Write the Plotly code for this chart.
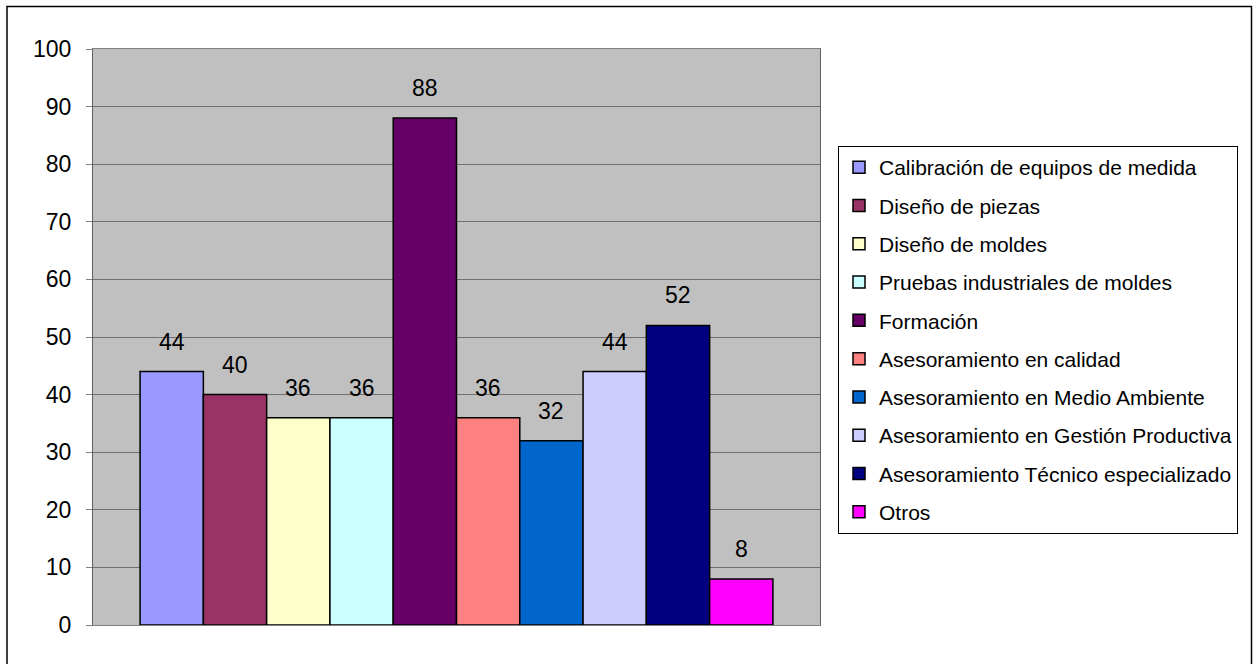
import plotly.graph_objects as go

categories = [
    "Calibración de equipos de medida",
    "Diseño de piezas",
    "Diseño de moldes",
    "Pruebas industriales de moldes",
    "Formación",
    "Asesoramiento en calidad",
    "Asesoramiento en Medio Ambiente",
    "Asesoramiento en Gestión Productiva",
    "Asesoramiento Técnico especializado",
    "Otros",
]
values = [44, 40, 36, 36, 88, 36, 32, 44, 52, 8]
colors = ["#9999FF", "#993366", "#FFFFCC", "#CCFFFF", "#660066",
          "#FF8080", "#0066CC", "#CCCCFF", "#000080", "#FF00FF"]
y_ticks = [0, 10, 20, 30, 40, 50, 60, 70, 80, 90, 100]

FONT = "Liberation Sans, Arial, sans-serif"

fig = go.Figure()
for i, (name, v, c) in enumerate(zip(categories, values, colors)):
    fig.add_trace(go.Bar(
        x=[i], y=[v], name=name, width=1.0,
        marker=dict(color=c, line=dict(color="#000000", width=1.5)),
        legendgroup=name,
        hoverinfo="name+y",
    ))
    fig.add_annotation(x=i, y=v, text=str(v), showarrow=False,
                       yanchor="bottom", yshift=15,
                       font=dict(family=FONT, size=23, color="#000000"))

W, H = 1253, 664
L, R, T, B = 93, 820, 49, 625
pw, ph = R - L, B - T

def px(xp):
    return (xp - L) / pw

def py(yp):
    return (B - yp) / ph

fig.add_shape(type="rect", xref="paper", yref="paper",
              x0=px(7), x1=px(1251.5), y0=py(680), y1=py(6.5),
              line=dict(color="#000000", width=1.5), layer="below")

fig.update_layout(
    width=W, height=H,
    margin=dict(l=L, r=W - R, t=T, b=H - B, pad=0),
    paper_bgcolor="#FFFFFF",
    plot_bgcolor="#C0C0C0",
    barmode="overlay",
    font=dict(family=FONT, size=21, color="#000000"),
    showlegend=True,
    legend=dict(
        x=px(838), y=py(146), xanchor="left", yanchor="top",
        bgcolor="#FFFFFF", bordercolor="#000000", borderwidth=1,
        font=dict(family=FONT, size=21, color="#000000"),
        tracegroupgap=8, traceorder="grouped",
    ),
    xaxis=dict(
        range=[-1.244, 10.244], showticklabels=False, ticks="",
        showgrid=False, zeroline=False,
        showline=True, linecolor="#808080", linewidth=1, mirror=True,
    ),
    yaxis=dict(
        range=[0, 100], tickvals=y_ticks, ticks="outside", ticklen=6,
        tickcolor="#808080", tickwidth=1,
        showgrid=True, gridcolor="#707070", gridwidth=1,
        zeroline=False,
        showline=True, linecolor="#606060", linewidth=1, mirror=True,
        tickfont=dict(family=FONT, size=23, color="#000000"),
        ticklabelstandoff=10,
    ),
)

fig.write_html("out.html")
